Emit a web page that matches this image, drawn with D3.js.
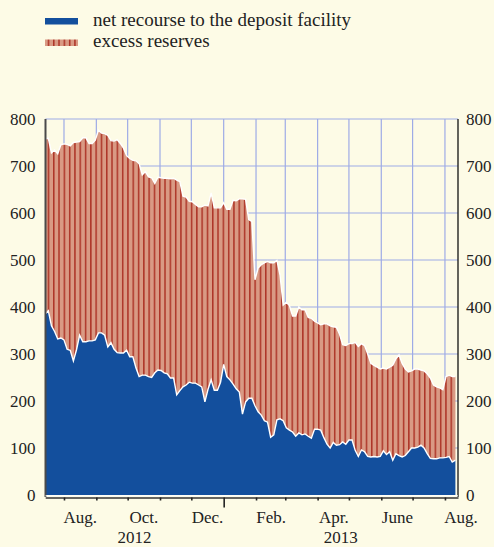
<!DOCTYPE html>
<html><head><meta charset="utf-8">
<script src="https://cdn.jsdelivr.net/npm/d3@7"></script>
<style>body{margin:0;background:#fdfbe6}svg{display:block}
text{font-family:"Liberation Serif","DejaVu Serif",serif}</style>
</head><body>
<svg id="chart" width="494" height="547"></svg>
<script>
const seriesNames = ["net recourse to the deposit facility", "excess reserves"];
const startDate = "2012-07-14";
const stepDays = 3;
const depositFacility = [
385,392,360,348,332,334,330,310,308,285,
309,340,326,326,328,328,330,345,345,340,
315,324,310,303,302,302,308,294,294,270,
252,255,255,252,250,260,266,265,260,258,
249,249,213,222,230,234,240,238,238,234,
230,198,225,245,223,223,240,278,252,245,
236,226,219,172,198,206,206,190,177,170,
158,155,123,128,160,162,158,143,138,134,
125,132,128,130,125,121,140,140,138,122,
108,100,112,106,107,113,108,117,117,95,
82,96,92,82,81,82,81,82,94,86,
92,74,88,84,81,84,92,100,100,102,
106,100,88,78,77,77,79,79,80,82,
70,74];
const excessReserves = [
373,367,368,386,394,411,417,436,435,465,
442,412,434,434,420,420,425,431,425,429,
450,430,443,453,446,436,414,422,418,441,
453,426,433,425,425,403,410,410,414,416,
424,425,457,445,406,400,385,386,380,379,
383,419,390,398,388,388,371,344,356,363,
391,400,411,458,431,380,376,268,306,320,
336,342,371,366,339,306,246,267,265,247,
256,268,266,264,253,255,230,226,224,242,
256,260,246,251,235,207,210,205,205,230,
234,226,226,218,199,194,191,186,176,182,
180,202,202,214,199,184,170,164,168,166,
160,164,170,171,157,153,149,145,172,173,
182,178];
const yTicks = [0,100,200,300,400,500,600,700,800];
const monthLabels = ["Aug.","Oct.","Dec.","Feb.","Apr.","June","Aug."];
const monthLabelDates = ["2012-08-16","2012-10-16","2012-12-16","2013-02-15","2013-04-16","2013-06-16","2013-08-16"];
const yearLabels = ["2012","2013"];
const yearBreak = "2013-01-01";
const domainDates = ["2012-07-14","2013-08-13"];

const parse = d3.timeParse("%Y-%m-%d");
const colors = {bg:"#fdfbe6", blue:"#134f9d", salmon:"#d99a84", stripe:"#ad3427", grid:"#9eabe6"};
const fontSize = 17;
const legendFontSize = 19;

const svg = d3.select("#chart");
const L = 45.5, R = 458, T = 119, B = 495;

const x = d3.scaleTime()
  .domain([parse(domainDates[0]), d3.timeHour.offset(parse(domainDates[1]), 12)])
  .range([45.2, R]);
const y = d3.scaleLinear().domain([0, 800]).range([B, T]);

const s0 = parse(startDate);
const data = depositFacility.map((v, i) => ({
  date: d3.timeDay.offset(s0, i * stepDays),
  deposit: v,
  excess: excessReserves[i]
}));
const stack = d3.stack().keys(["deposit", "excess"])(data);

const defs = svg.append("defs");
const pat = defs.append("pattern").attr("id","stripes").attr("patternUnits","userSpaceOnUse")
  .attr("width",5.3).attr("height",10);
pat.append("rect").attr("width",5.3).attr("height",10).attr("fill",colors.salmon);
pat.append("rect").attr("x",0).attr("width",1.5).attr("height",10).attr("fill",colors.stripe);
defs.append("clipPath").attr("id","plotclip").append("rect")
  .attr("x",L).attr("y",T - 10).attr("width",R - L).attr("height",B - T + 10);

svg.append("rect").attr("width",494).attr("height",547).attr("fill",colors.bg);

// gridlines
const monthStarts = d3.timeMonth.range(parse("2012-08-01"), parse("2013-08-02"));
svg.append("g").selectAll("line").data(yTicks.filter(d => d > 0)).join("line")
  .attr("x1", L).attr("x2", R).attr("y1", d => y(d)).attr("y2", d => y(d))
  .attr("stroke", colors.grid).attr("stroke-width", 1.2);
svg.append("g").selectAll("line").data(monthStarts).join("line")
  .attr("x1", d => x(d)).attr("x2", d => x(d)).attr("y1", T).attr("y2", B)
  .attr("stroke", colors.grid).attr("stroke-width", 1.2);

// areas
const area = d3.area().x(d => x(d.data.date)).y0(d => y(d[0])).y1(d => y(d[1]));
const line = d3.line().x(d => x(d.data.date)).y(d => y(d[1]));
const pg = svg.append("g").attr("clip-path","url(#plotclip)");
pg.append("path").datum(stack[1]).attr("d", area).attr("fill", "url(#stripes)");
pg.append("path").datum(stack[0]).attr("d", area).attr("fill", colors.blue);
pg.append("path").datum(stack[1]).attr("d", line).attr("fill","none").attr("stroke","#fff").attr("stroke-width",1.4);
pg.append("path").datum(stack[0]).attr("d", line).attr("fill","none").attr("stroke","#fff").attr("stroke-width",1.4);

// y axes
const yl = svg.append("g").attr("transform",`translate(${L},0)`)
  .call(d3.axisLeft(y).tickValues(yTicks).tickSize(0).tickPadding(10).tickSizeOuter(0));
const yr = svg.append("g").attr("transform",`translate(${R},0)`)
  .call(d3.axisRight(y).tickValues(yTicks).tickSize(0).tickPadding(8).tickSizeOuter(0));
yl.select(".domain").attr("stroke","#4a4a4a").attr("stroke-width",2).attr("d",`M0,${T}V${B+2}`);
yr.select(".domain").attr("stroke","#111").attr("stroke-width",1.3).attr("d",`M0,${T}V${B+2}`);
[yl, yr].forEach(g => g.selectAll("text").attr("font-family", null).attr("font-size", fontSize).attr("fill","#222"));

// x axis
const xa = svg.append("g").attr("transform",`translate(0,${B+2.5})`)
  .call(d3.axisBottom(x).tickValues(monthStarts.filter(d => d.getMonth() !== 0)).tickSize(3).tickSizeOuter(0).tickFormat(""));
xa.select(".domain").attr("stroke","#333").attr("stroke-width",1.6);
xa.selectAll(".tick line").attr("stroke","#222").attr("stroke-width",1.6);
const xj = svg.append("g").attr("transform",`translate(0,${B+2.5})`)
  .call(d3.axisBottom(x).tickValues([parse(yearBreak)]).tickSize(10).tickFormat(""));
xj.select(".domain").remove();
xj.selectAll(".tick line").attr("stroke","#222").attr("stroke-width",1.6);
svg.append("line").attr("x1",L).attr("x2",R).attr("y1",B+0.8).attr("y2",B+0.8).attr("stroke","#fff").attr("stroke-width",1);

const xl = svg.append("g").attr("transform",`translate(0,${B+2.5})`)
  .call(d3.axisBottom(x).tickValues(monthLabelDates.map(parse)).tickSize(0).tickPadding(13.5)
    .tickFormat((d, i) => monthLabels[i]));
xl.select(".domain").remove();
xl.selectAll("text").attr("font-family", null).attr("font-size", fontSize).attr("fill","#222");

const xb = x(parse(yearBreak));
const yearPos = [(x.range()[0] + xb) / 2, (xb + x.range()[1]) / 2];
svg.append("g").selectAll("text").data(yearLabels).join("text")
  .attr("x", (d, i) => yearPos[i]).attr("y", 543).attr("text-anchor","middle")
  .attr("font-size", fontSize).attr("fill","#222").text(d => d);

// legend
const lg = svg.append("g");
lg.append("rect").attr("x",45).attr("y",18).attr("width",33).attr("height",6.5).attr("fill",colors.blue);
lg.append("rect").attr("x",45).attr("y",39.5).attr("width",33).attr("height",6.5).attr("fill","url(#stripes)");
lg.selectAll("text").data(seriesNames).join("text")
  .attr("x",93).attr("y",(d,i) => 25.5 + i * 21.5)
  .attr("font-size", legendFontSize).attr("fill","#222").text(d => d);
</script>
</body></html>
